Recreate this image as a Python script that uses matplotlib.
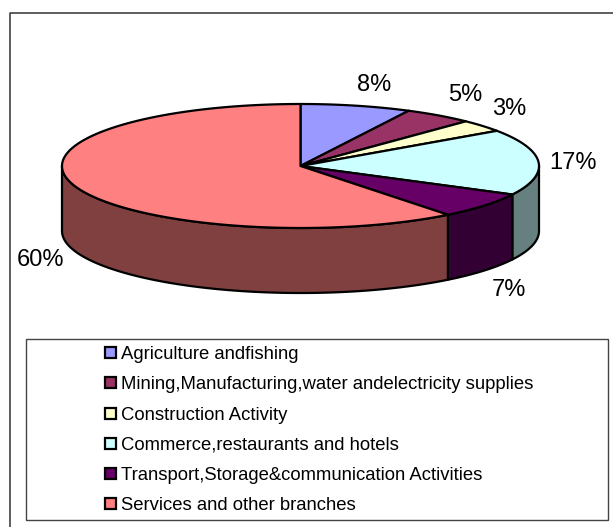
import numpy as np
import matplotlib
matplotlib.use('Agg')
from matplotlib import pyplot as plt
from matplotlib.patches import Polygon, Rectangle

# data
categories = ['Agriculture andfishing',
              'Mining,Manufacturing,water andelectricity supplies',
              'Construction Activity',
              'Commerce,restaurants and hotels',
              'Transport,Storage&communication Activities',
              'Services and other branches']
shares = [7.5, 4.7, 3.2, 17.2, 6.8, 60.6]
pct_labels = ['8%', '5%', '3%', '17%', '7%', '60%']

top_colors = ['#9999FF', '#993366', '#FFFFCC', '#CCFFFF', '#660066', '#FF8080']
side_colors = ['#4D4D80', '#4D1A33', '#808066', '#668080', '#330033', '#804040']

# layout in pixels
cx, cy = 300.5, 166
rx, ry = 238.5, 62
depth = 65
label_pos = [(374.5, 85), (465, 95), (509, 109), (573, 163), (509, 290), (40, 260)]

plt.rcParams['font.family'] = ['Liberation Sans', 'DejaVu Sans']

fig = plt.figure(figsize=(6.13, 5.27), dpi=100)
ax = fig.add_axes([0, 0, 1, 1])
ax.set_xlim(0, 613)
ax.set_ylim(527, 0)
ax.axis('off')

# outer chart frame, runs off the right and bottom edges
ax.plot([9.5, 9.5, 613], [527, 12.5, 12.5], color='#333333', lw=1.1)


def rim(a0, a1):
    # angles in degrees clockwise from 12 o'clock
    t = np.radians(np.linspace(a0, a1, 200))
    return cx + rx * np.sin(t), cy - ry * np.cos(t)


edges = np.cumsum([0] + shares) * 3.6
edges[-1] = 360

# side walls, only the front half (90..270) shows
for i in range(len(shares)):
    a0 = max(edges[i], 90)
    a1 = min(edges[i + 1], 270)
    if a1 <= a0:
        continue
    x, y = rim(a0, a1)
    pts = np.vstack([np.column_stack([x, y]),
                     np.column_stack([x[::-1], y[::-1] + depth])])
    ax.add_patch(Polygon(pts, closed=True, fc=side_colors[i], ec='black', lw=1.6, joinstyle='round'))

# top face
for i in range(len(shares)):
    x, y = rim(edges[i], edges[i + 1])
    pts = np.vstack([[cx, cy], np.column_stack([x, y])])
    ax.add_patch(Polygon(pts, closed=True, fc=top_colors[i], ec='black', lw=1.6, joinstyle='round'))

for lab, (lx, ly) in zip(pct_labels, label_pos):
    ax.text(lx, ly, lab, fontsize=17, ha='center', va='center', color='black')

# legend box
ax.add_patch(Rectangle((26, 339), 581.5, 181, fc='white', ec='#444444', lw=1.0))
leg_y = [353, 383, 414, 444, 474, 504]
for name, col, ly in zip(categories, top_colors, leg_y):
    ax.add_patch(Rectangle((104.5, ly - 6), 11, 11, fc=col, ec='black', lw=1.6))
    ax.text(121, ly + 6, name, fontsize=13.3, ha='left', va='baseline', color='black')

fig.savefig('out.png', dpi=100)
